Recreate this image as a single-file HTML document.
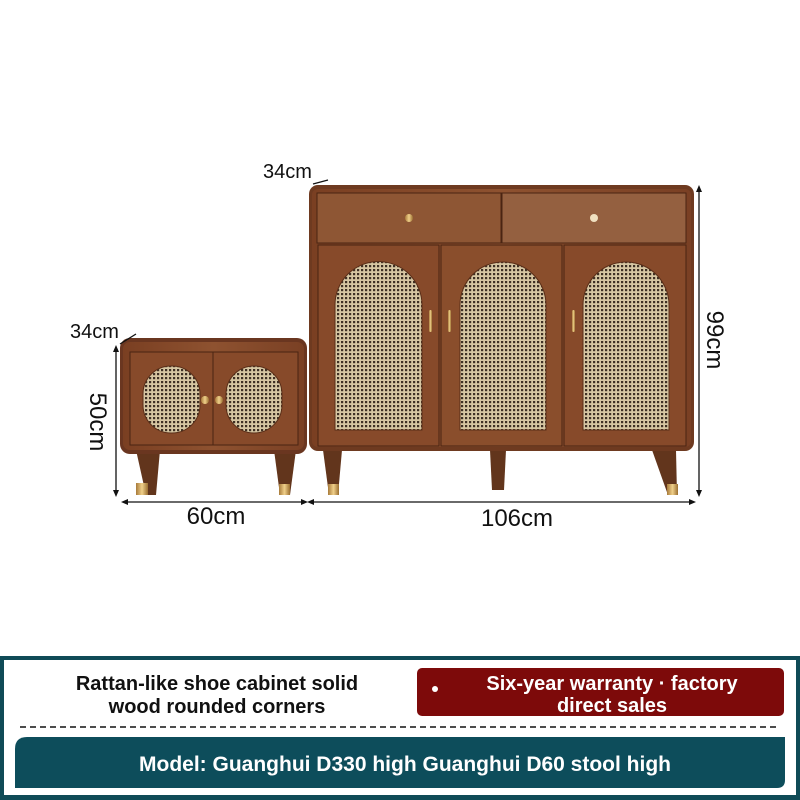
<!DOCTYPE html>
<html><head><meta charset="utf-8"><style>
html,body{margin:0;padding:0;background:#fff;}
svg{display:block}
.t{font-family:"Liberation Sans",sans-serif;fill:#111}
.n{font-family:"Liberation Sans Narrow","Liberation Sans",sans-serif;font-weight:bold}
</style></head><body>
<svg width="800" height="800" viewBox="0 0 800 800" xmlns="http://www.w3.org/2000/svg">
<defs>
<pattern id="rt" width="4" height="4" patternUnits="userSpaceOnUse">
<rect width="4" height="4" fill="#d6c6a2"/>
<rect x="1" y="1" width="2.2" height="2.2" fill="#3e3024"/>
</pattern>
<linearGradient id="wd" x1="0" y1="0" x2="1" y2="0">
<stop offset="0" stop-color="#7a3f22"/><stop offset="0.5" stop-color="#8e5230"/><stop offset="1" stop-color="#7a4024"/>
</linearGradient>
<linearGradient id="gold" x1="0" y1="0" x2="1" y2="0">
<stop offset="0" stop-color="#a77a3a"/><stop offset="0.5" stop-color="#f0d08a"/><stop offset="1" stop-color="#9a6e30"/>
</linearGradient>
</defs>

<polygon points="323,450 342,450 338,495 329,495" fill="#62351c"/>
<rect x="328" y="484" width="11" height="11" fill="url(#gold)"/>
<polygon points="490,450 506,450 504,490 492,490" fill="#62351c"/>
<polygon points="652,450 676,450 677,495 668,495" fill="#62351c"/>
<rect x="667" y="484" width="11" height="11" fill="url(#gold)"/>
<rect x="309" y="185" width="385" height="266" rx="9" fill="#6e3a20"/>
<rect x="312" y="189" width="379" height="258" rx="6" fill="url(#wd)"/>
<rect x="317" y="193" width="184" height="50" fill="#8e5634" stroke="#4a2412" stroke-width="1"/>
<rect x="502" y="193" width="184" height="50" fill="#946040" stroke="#4a2412" stroke-width="1"/>
<circle cx="409" cy="218" r="4" fill="url(#gold)"/>
<circle cx="594" cy="218" r="4" fill="#f0e0c0"/>
<rect x="318" y="245" width="121" height="201" fill="#874a2a" stroke="#4a2412"/>
<rect x="441" y="245" width="121" height="201" fill="#8a4e2c" stroke="#4a2412"/>
<rect x="564" y="245" width="122" height="201" fill="#874a2a" stroke="#4a2412"/>
<path d="M335,430 V305 A43,43 0 0 1 422,305 V430 Z" fill="url(#rt)" stroke="#5a2e18"/>
<path d="M460,430 V305 A43,43 0 0 1 546,305 V430 Z" fill="url(#rt)" stroke="#5a2e18"/>
<path d="M583,430 V305 A43,43 0 0 1 669,305 V430 Z" fill="url(#rt)" stroke="#5a2e18"/>
<rect x="429" y="310" width="3" height="22" rx="1.5" fill="url(#gold)"/>
<rect x="448" y="310" width="3" height="22" rx="1.5" fill="url(#gold)"/>
<rect x="572" y="310" width="3" height="22" rx="1.5" fill="url(#gold)"/>

<polygon points="136,450 160,450 156,495 146,495" fill="#62351c"/>
<rect x="136" y="483" width="12" height="12" fill="url(#gold)"/>
<polygon points="274,450 296,450 290,495 280,495" fill="#62351c"/>
<rect x="279" y="484" width="11" height="11" fill="url(#gold)"/>
<rect x="120" y="338" width="187" height="116" rx="10" fill="#6a3620"/>
<rect x="123" y="342" width="181" height="108" rx="7" fill="url(#wd)"/>
<rect x="130" y="352" width="83" height="93" fill="#874a2a" stroke="#4a2412"/>
<rect x="213" y="352" width="85" height="93" fill="#874a2a" stroke="#4a2412"/>
<rect x="143" y="366" width="57" height="67" rx="28" fill="url(#rt)" stroke="#5a2e18"/>
<rect x="226" y="366" width="56" height="67" rx="28" fill="url(#rt)" stroke="#5a2e18"/>
<circle cx="205" cy="400" r="4" fill="url(#gold)"/>
<circle cx="219" cy="400" r="4" fill="url(#gold)"/>

<g stroke="#111" stroke-width="1.3" fill="#111">
<line x1="699" y1="188" x2="699" y2="494"/>
<polygon points="696,192 702,192 699,185" stroke="none"/>
<polygon points="696,490 702,490 699,497" stroke="none"/>
<line x1="116" y1="348" x2="116" y2="494"/>
<polygon points="113,352 119,352 116,345" stroke="none"/>
<polygon points="113,490 119,490 116,497" stroke="none"/>
<line x1="125" y1="502" x2="304" y2="502"/>
<polygon points="128,499 128,505 121,502" stroke="none"/>
<polygon points="301,499 301,505 308,502" stroke="none"/>
<line x1="311" y1="502" x2="692" y2="502"/>
<polygon points="314,499 314,505 307,502" stroke="none"/>
<polygon points="689,499 689,505 696,502" stroke="none"/>
<line x1="313" y1="184" x2="328" y2="180"/>
<line x1="120" y1="344" x2="136" y2="334"/>
</g>
<text class="t" x="263" y="178" font-size="20">34cm</text>
<text class="t" x="70" y="338" font-size="20">34cm</text>
<text class="t" x="216" y="524" font-size="24" text-anchor="middle">60cm</text>
<text class="t" x="517" y="526" font-size="24" text-anchor="middle">106cm</text>
<text class="t" font-size="24" text-anchor="middle" transform="translate(707,340) rotate(90)">99cm</text>
<text class="t" font-size="24" text-anchor="middle" transform="translate(90,422) rotate(90)">50cm</text>

<rect x="0" y="656" width="800" height="144" fill="#0f4b57"/>
<rect x="4" y="660" width="792" height="135" fill="#fff"/>
<text class="n" x="217" y="690" font-size="20" fill="#111" text-anchor="middle">Rattan-like shoe cabinet solid</text>
<text class="n" x="217" y="713" font-size="20" fill="#111" text-anchor="middle">wood rounded corners</text>
<rect x="417" y="668" width="367" height="48" rx="5" fill="#7d0a0a"/>
<circle cx="435" cy="689" r="3" fill="#fff"/>
<text class="n" x="612" y="690" font-size="20" fill="#fff" text-anchor="middle">Six-year warranty · factory</text>
<text class="n" x="612" y="712" font-size="20" fill="#fff" text-anchor="middle">direct sales</text>
<line x1="20" y1="727" x2="780" y2="727" stroke="#111" stroke-width="1.5" stroke-dasharray="6,4"/>
<path d="M15,788 V749 Q15,737 27,737 H785 V780 Q785,788 777,788 Z" fill="#0d4d5b"/>
<text class="n" x="405" y="771" font-size="21" fill="#fff" text-anchor="middle">Model: Guanghui D330 high Guanghui D60 stool high</text>
</svg>
</body></html>
